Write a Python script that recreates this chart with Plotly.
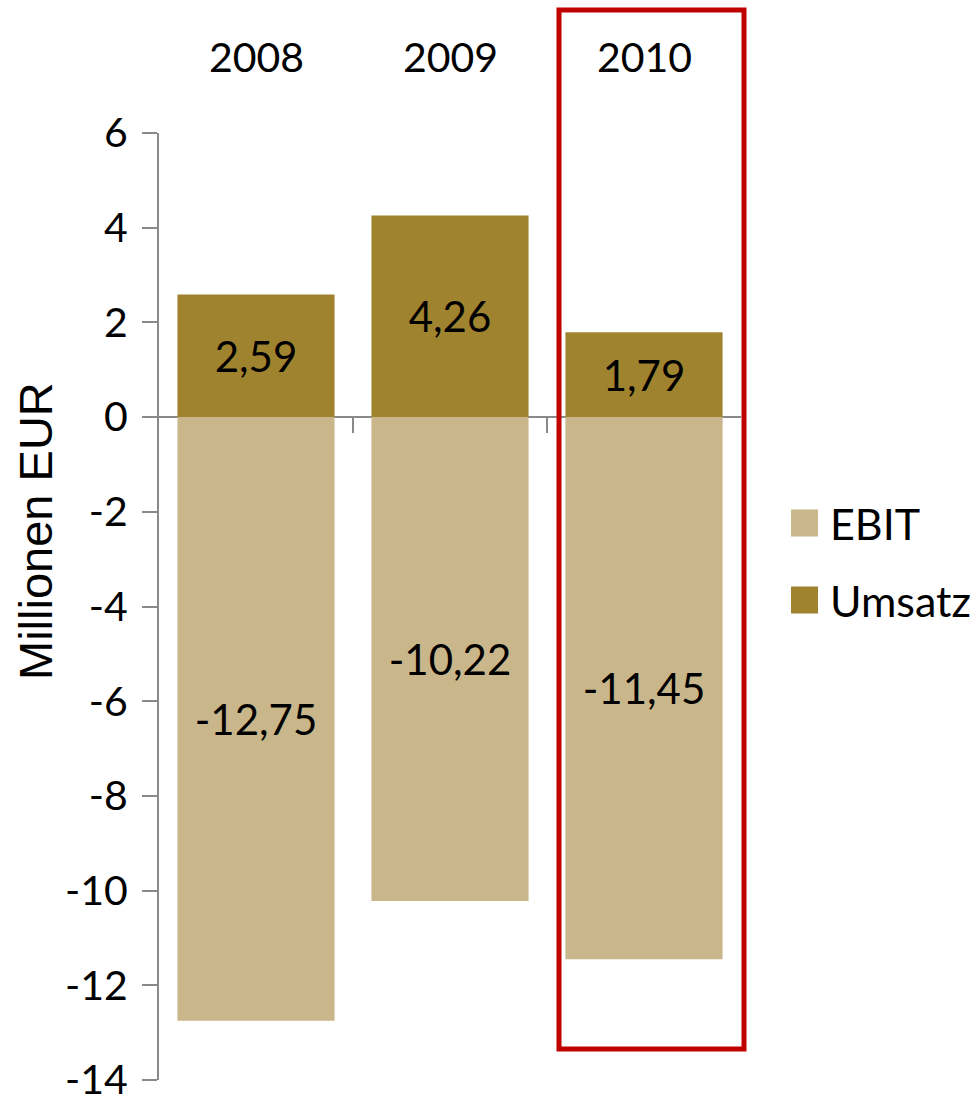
import plotly.graph_objects as go

# Kennzahlen je Geschäftsjahr (Millionen EUR)
years = ["2008", "2009", "2010"]
umsatz = [2.59, 4.26, 1.79]
ebit = [-12.75, -10.22, -11.45]
y_ticks = [6, 4, 2, 0, -2, -4, -6, -8, -10, -12, -14]

EBIT_COLOR = "#C9B68A"
UMSATZ_COLOR = "#A0832E"
AXIS_COLOR = "#898989"
HIGHLIGHT = "#C00000"
FONT = "Lato, 'Open Sans', sans-serif"

W, H = 978, 1096
L, R, T, B = 159, 237, 133, 16
PW, PH = W - L - R, H - T - B


def px_x(p):
    """Horizontal pixel position -> paper coordinate."""
    return (p - L) / PW


def px_y(p):
    """Vertical pixel position -> paper coordinate."""
    return (H - B - p) / PH


def de(v):
    return f"{v:.2f}".replace(".", ",")


xs = list(range(len(years)))

fig = go.Figure()
fig.add_trace(go.Bar(
    x=xs, y=ebit, name="EBIT", marker=dict(color=EBIT_COLOR, line_width=0),
    text=[de(v) for v in ebit], textposition="inside", insidetextanchor="middle",
    textangle=0, textfont=dict(family=FONT, size=42, color="black"),
    constraintext="none", showlegend=False,
))
fig.add_trace(go.Bar(
    x=xs, y=umsatz, name="Umsatz", marker=dict(color=UMSATZ_COLOR, line_width=0),
    text=[de(v) for v in umsatz], textposition="inside", insidetextanchor="middle",
    textangle=0, textfont=dict(family=FONT, size=42, color="black"),
    constraintext="none", showlegend=False,
))

annotations = []
# Jahreszahlen über den Säulen
for i, yr in enumerate(years):
    annotations.append(dict(
        x=i, y=px_y(57), xref="x", yref="paper", text=yr, showarrow=False,
        font=dict(family=FONT, size=41, color="black"), xanchor="center", yanchor="middle",
    ))
# Achsentitel
annotations.append(dict(
    x=px_x(35), y=px_y(531), xref="paper", yref="paper", text="Millionen EUR",
    showarrow=False, textangle=-90,
    font=dict(family="'Liberation Sans', Arial, sans-serif", size=47, color="black"),
    xanchor="center", yanchor="middle",
))

shapes = []
# Legende
legend_items = [("EBIT", EBIT_COLOR, 523), ("Umsatz", UMSATZ_COLOR, 600)]
for label, color, cy in legend_items:
    shapes.append(dict(
        type="rect", xref="paper", yref="paper",
        x0=px_x(791), x1=px_x(818), y0=px_y(cy + 13.5), y1=px_y(cy - 13.5),
        fillcolor=color, line_width=0,
    ))
    annotations.append(dict(
        x=px_x(828), y=px_y(cy), xref="paper", yref="paper", text=label,
        showarrow=False, font=dict(family=FONT, size=43, color="black"),
        xanchor="left", yanchor="middle",
    ))

# Hervorhebung des Jahres 2010
shapes.append(dict(
    type="rect", xref="paper", yref="paper",
    x0=px_x(559), x1=px_x(744), y0=px_y(1049), y1=px_y(10),
    line=dict(color=HIGHLIGHT, width=5), fillcolor="rgba(0,0,0,0)", layer="above",
))

fig.update_layout(
    width=W, height=H,
    margin=dict(l=L, r=R, t=T, b=B, autoexpand=False),
    paper_bgcolor="white", plot_bgcolor="white",
    barmode="relative", bargap=0.19,
    showlegend=False,
    font=dict(family=FONT, color="black"),
    annotations=annotations, shapes=shapes,
    xaxis=dict(
        range=[-0.5, len(years) - 0.5], tickvals=[0.5, 1.5], showticklabels=False,
        ticks="outside", ticklen=15, tickwidth=2, tickcolor=AXIS_COLOR,
        showline=False, showgrid=False, zeroline=False,
        anchor="free", position=(0 - y_ticks[-1]) / (y_ticks[0] - y_ticks[-1]),
        fixedrange=True,
    ),
    yaxis=dict(
        range=[y_ticks[-1], y_ticks[0]], tickvals=y_ticks,
        ticktext=[str(v) for v in y_ticks],
        ticks="outside", ticklen=15, tickwidth=2, tickcolor=AXIS_COLOR,
        showline=True, linecolor=AXIS_COLOR, linewidth=2,
        showgrid=False, zeroline=True, zerolinecolor=AXIS_COLOR, zerolinewidth=2,
        tickfont=dict(family=FONT, size=41, color="black"),
        ticklabelstandoff=6, ticklabeloverflow="allow",
    ),
)

fig.write_html("out.html")
